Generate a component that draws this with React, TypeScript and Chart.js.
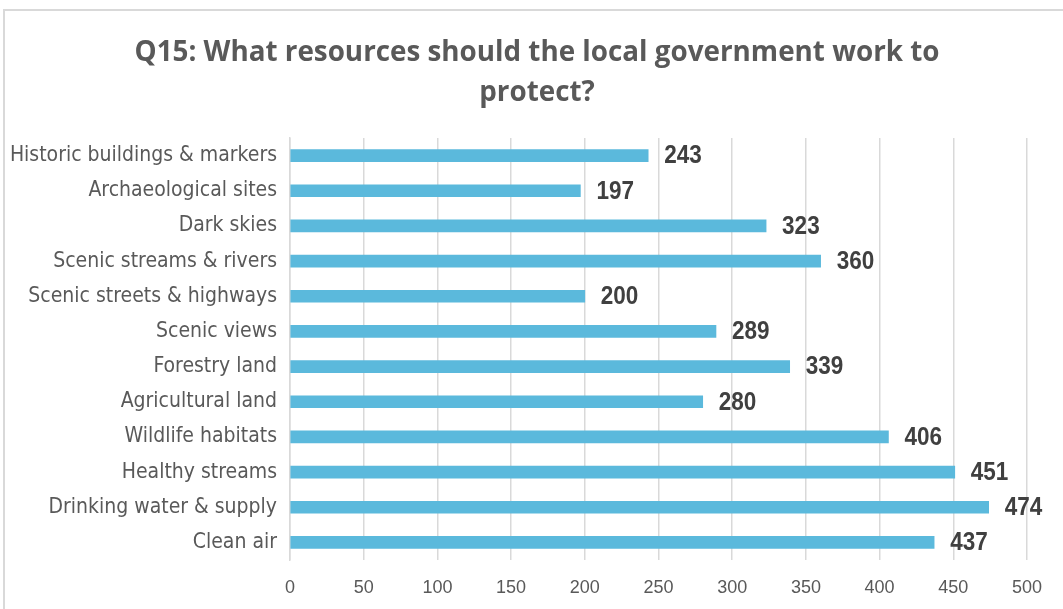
import React, { useEffect, useRef } from "react";
import { Chart, registerables } from "chart.js";

Chart.register(...registerables);

const categories = [
  "Historic buildings & markers",
  "Archaeological sites",
  "Dark skies",
  "Scenic streams & rivers",
  "Scenic streets & highways",
  "Scenic views",
  "Forestry land",
  "Agricultural land",
  "Wildlife habitats",
  "Healthy streams",
  "Drinking water & supply",
  "Clean air",
];
const values = [243, 197, 323, 360, 200, 289, 339, 280, 406, 451, 474, 437];
const titleLines = ["Q15: What resources should the local government work to", "protect?"];

const CONDENSED = "'DejaVu Sans Condensed', 'Liberation Sans Narrow', sans-serif";

const titleDraw = {
  id: "titleDraw",
  afterDraw(chart: any) {
    const ctx = chart.ctx;
    ctx.save();
    ctx.font = `bold 27.8px 'Open Sans', sans-serif`;
    ctx.fillStyle = "#595959";
    ctx.textAlign = "center";
    ctx.textBaseline = "middle";
    titleLines.forEach((line, i) => {
      ctx.fillText(line, 537, 53 + i * 40);
    });
    ctx.restore();
  },
};

const valueLabels = {
  id: "valueLabels",
  afterDatasetsDraw(chart: any) {
    const ctx = chart.ctx;
    const meta = chart.getDatasetMeta(0);
    meta.data.forEach((bar: any, i: number) => {
      ctx.save();
      ctx.translate(bar.x + 16, bar.y + 1);
      ctx.scale(0.9, 1);
      ctx.font = `bold 25px 'Liberation Sans', sans-serif`;
      ctx.fillStyle = "#404040";
      ctx.textAlign = "left";
      ctx.textBaseline = "middle";
      ctx.fillText(String(values[i]), 0, 0);
      ctx.restore();
    });
  },
};

export default function App() {
  const ref = useRef<HTMLCanvasElement>(null);
  useEffect(() => {
    if (!ref.current) return;
    const chart = new Chart(ref.current, {
      type: "bar",
      data: {
        labels: categories,
        datasets: [
          {
            data: values,
            backgroundColor: "#5bb9dc",
            barThickness: 12,
          },
        ],
      },
      options: {
        indexAxis: "y",
        responsive: false,
        animation: false,
        layout: { padding: { left: 0, right: 36, top: 138, bottom: 0 } },
        plugins: {
          legend: { display: false },
          tooltip: { enabled: false },
          title: { display: false },
        },
        scales: {
          x: {
            min: 0,
            max: 500,
            ticks: {
              stepSize: 50,
              color: "#595959",
              font: { family: "'Liberation Sans', sans-serif", size: 18 },
              padding: 17,
            },
            grid: { color: "#d9d9d9", lineWidth: 1.5, drawTicks: false },
            border: { display: false },
            afterFit: (s: any) => {
              s.height = 49;
            },
          },
          y: {
            ticks: {
              color: "#595959",
              font: { family: CONDENSED, size: 21 },
              padding: 13,
            },
            grid: { display: false, drawTicks: false },
            border: { display: true, color: "#d9d9d9", width: 1.5 },
            afterFit: (s: any) => {
              s.width = 290;
            },
          },
        },
      },
      plugins: [valueLabels, titleDraw],
    });
    return () => chart.destroy();
  }, []);
  return (
    <div style={{ position: "fixed", left: 0, top: 0, width: 1063, height: 609, background: "#fff", overflow: "hidden" }}>
      <div
        style={{
          position: "absolute",
          left: 3,
          top: 9,
          width: 1100,
          height: 700,
          border: "2px solid #d9d9d9",
        }}
      />
      <canvas ref={ref} width={1063} height={609} style={{ position: "absolute", left: 0, top: 0 }} />
    </div>
  );
}
